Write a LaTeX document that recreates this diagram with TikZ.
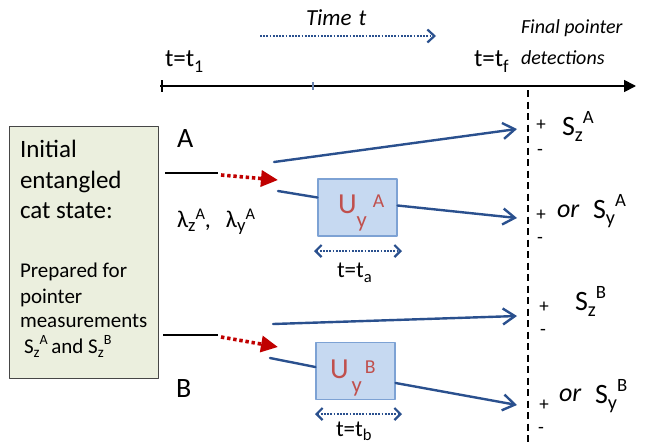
\documentclass[tikz,border=0pt]{standalone}
\usepackage{graphicx}
\usepackage{fontspec}
\setmainfont{Carlito}
\usetikzlibrary{arrows.meta}
\definecolor{lineblue}{RGB}{42,80,142}
\definecolor{redarrow}{RGB}{192,0,0}
\definecolor{ured}{RGB}{192,80,77}
\definecolor{boxblue}{RGB}{198,217,241}
\definecolor{boxedge}{RGB}{125,162,212}
\definecolor{greenfill}{RGB}{235,239,222}
\definecolor{greenedge}{RGB}{70,70,70}
\newcommand\mysub[2][-0.22em]{\raisebox{#1}{\scalebox{0.72}{#2}}}
\newcommand\mysup[2][0.42em]{\raisebox{#1}{\scalebox{0.67}{#2}}}
\newcommand\bigsub[2][-0.22em]{\raisebox{#1}{\scalebox{0.78}{#2}}}
\newcommand\bigsup[2][0.42em]{\raisebox{#1}{\scalebox{0.68}{#2}}}
\tikzset{
  txt/.style={inner sep=0pt, outer sep=0pt, anchor=base west},
  pm/.style={inner sep=0pt, outer sep=0pt, anchor=center, font=\fontsize{19}{20}\selectfont},
  slabel/.style={txt, font=\fontsize{28}{30}\selectfont},
  orlabel/.style={txt, font=\fontsize{26}{30}\itshape},
  ulabel/.style={txt, text=ured, font=\fontsize{29}{30}\selectfont},
  tlabel/.style={txt, font=\fontsize{25}{30}\selectfont},
  tsmall/.style={txt, font=\fontsize{23}{25}\selectfont},
  initbig/.style={txt, font=\fontsize{25}{30}\selectfont},
  initsmall/.style={txt, font=\fontsize{21}{25}\selectfont},
  ubox/.style={draw=boxedge, fill=boxblue, line width=1.2pt, minimum width=79pt, minimum height=57pt, inner sep=0pt},
  blueline/.style={draw=lineblue, line width=2.4pt, line cap=round},
  bluearrow/.style={blueline, -{Straight Barb[length=12pt,width=16pt]}},
  bluedots/.style={draw=lineblue, line width=2.2pt, dash pattern=on 1.8pt off 1.4pt,
     {Straight Barb[length=6pt,width=12pt]}-{Straight Barb[length=6pt,width=12pt]}},
  timedots/.style={draw=lineblue, line width=2.2pt, dash pattern=on 1.8pt off 1.4pt,
     -{Straight Barb[length=7pt,width=13pt]}},
  reddots/.style={draw=redarrow, line width=3.6pt, dash pattern=on 3.4pt off 2.8pt,
     -{Triangle[length=17pt,width=16pt]}},
  blackline/.style={draw=black, line width=2pt},
}
\begin{document}
\begin{tikzpicture}[x=1pt,y=-1pt,line join=round]
\useasboundingbox (0,0) rectangle (647,445);

% ---- time axis
\coordinate (ax0) at (160,86);
\coordinate (ax1) at (636,86);
\draw[line width=1.7pt, -{Triangle[length=12pt,width=12pt]}] (ax0) -- (ax1);
\coordinate (tk0a) at (162,80); \coordinate (tk0b) at (162,92);
\draw[line width=1.5pt] (tk0a) -- (tk0b);
\coordinate (tk1a) at (313,82); \coordinate (tk1b) at (313,90);
\draw[line width=1.5pt, draw=lineblue!70] (tk1a) -- (tk1b);

\node[tlabel] (t1) at (165,66) {t=t\mysub[-0.25em]{1}};
\node[tlabel] (tf) at (474,66) {t=t\mysub[-0.25em]{f}};
\node[txt, font=\fontsize{23}{25}\itshape] (timet) at (306,25) {Time\hspace{7pt}t};
\coordinate (ta0) at (260,36); \coordinate (ta1) at (436,36);
\draw[timedots] (ta0) -- (ta1);
\node[txt, font=\fontsize{20}{25}\itshape] (fp1) at (521,33) {Final pointer};
\node[txt, font=\fontsize{20}{25}\itshape] (fp2) at (521,64) {detections};

% ---- dashed detection line
\coordinate (d0) at (528,90);
\coordinate (d1) at (528,445);
\draw[line width=1.5pt, dash pattern=on 7pt off 4.5pt] (d0) -- (d1);

% ---- initial state box
\node[draw=greenedge, fill=greenfill, line width=1pt, minimum width=149pt, minimum height=252pt,
      inner sep=0pt, anchor=north west] (init) at (9,126) {};
\node[initbig] (i1) at (20,157) {Initial};
\node[initbig] (i2) at (20,188) {entangled};
\node[initbig] (i3) at (20,218) {cat state:};
\node[initsmall] (i4) at (20,277) {Prepared for};
\node[initsmall] (i5) at (20,303) {pointer};
\node[initsmall] (i6) at (20,327) {measurements};
\node[initsmall] (i7) at (24,353) {S\mysub{z}\mysup{A}\,and S\mysub{z}\mysup{B}};

% ---- labels A, B, lambda
\node[txt, font=\fontsize{28}{30}\selectfont] (labA) at (177,147) {A};
\node[txt, font=\fontsize{28}{30}\selectfont] (labB) at (176,397) {B};
\node[txt, font=\fontsize{24}{26}\selectfont] (lam) at (177,227)
  {λ\bigsub[-0.2em]{z}\bigsup[0.3em]{A},\hspace{15pt}λ\bigsub[-0.2em]{y}\bigsup[0.3em]{A}};

% ---- black and red lines
\coordinate (aS) at (165,173); \coordinate (aE) at (218,173);
\draw[blackline] (aS) -- (aE);
\coordinate (aR0) at (221,175); \coordinate (aR1) at (278,180);
\draw[reddots] (aR0) -- (aR1);
\coordinate (bS) at (163,335); \coordinate (bE) at (218,335);
\draw[blackline] (bS) -- (bE);
\coordinate (bR0) at (221,337); \coordinate (bR1) at (278,347);
\draw[reddots] (bR0) -- (bR1);

% ---- unitary boxes
\node[ubox] (UA) at (357.5,207.5) {};
\node[ulabel] (UAl) at (338,213) {U\bigsub[-14pt]{y}\hspace{6pt}\bigsup[6pt]{A}};
\node[ubox] (UB) at (355.5,371) {};
\node[ulabel] (UBl) at (330,378) {U\hspace{3pt}\bigsub[-14pt]{y}\hspace{3pt}\bigsup[5pt]{B}};

\coordinate (uaA0) at (314,251); \coordinate (uaA1) at (402,251);
\draw[bluedots] (uaA0) -- (uaA1);
\node[tsmall] (tta) at (337,277) {t=t\mysub[-0.25em]{a}};
\coordinate (ubB0) at (315,414); \coordinate (ubB1) at (402,414);
\draw[bluedots] (ubB0) -- (ubB1);
\node[tsmall] (ttb) at (336,436) {t=t\mysub[-0.18em]{b}};

% ---- blue paths
\coordinate (aUp) at (274,162); \coordinate (eA1) at (517,129);
\draw[bluearrow] (aUp) -- (eA1);
\coordinate (aLo) at (278,191);
\draw[blueline] (aLo) -- ([yshift=10pt]UA.west);
\coordinate (eA2) at (517,218);
\draw[bluearrow] ([yshift=2pt]UA.east) -- (eA2);

\coordinate (bUp) at (273,324); \coordinate (eB1) at (517,316);
\draw[bluearrow] (bUp) -- (eB1);
\coordinate (bLo) at (270,358);
\draw[blueline] (bLo) -- ([yshift=4pt]UB.west);
\coordinate (eB2) at (517,405);
\draw[bluearrow] ([yshift=-12pt]UB.east) -- (eB2);

% ---- detection labels
\node[pm] (p1) at (541,125) {+};
\node[pm] (m1) at (540,152) {-};
\node[slabel] (s1) at (562,135) {S\mysub{z}\mysup{A}};
\node[pm] (p2) at (541,215) {+};
\node[pm] (m2) at (540,240) {-};
\node[orlabel] (o2) at (557,217) {or};
\node[slabel] (s2) at (593,218) {S\mysub{y}\mysup{A}};
\node[pm] (p3) at (544,307) {+};
\node[pm] (m3) at (543,332) {-};
\node[slabel] (s3) at (575,310) {S\mysub{z}\mysup{B}};
\node[pm] (p4) at (544,405) {+};
\node[pm] (m4) at (541,430) {-};
\node[orlabel] (o4) at (559,401) {or};
\node[slabel] (s4) at (595,403) {S\mysub{y}\mysup{B}};
\end{tikzpicture}
\end{document}
